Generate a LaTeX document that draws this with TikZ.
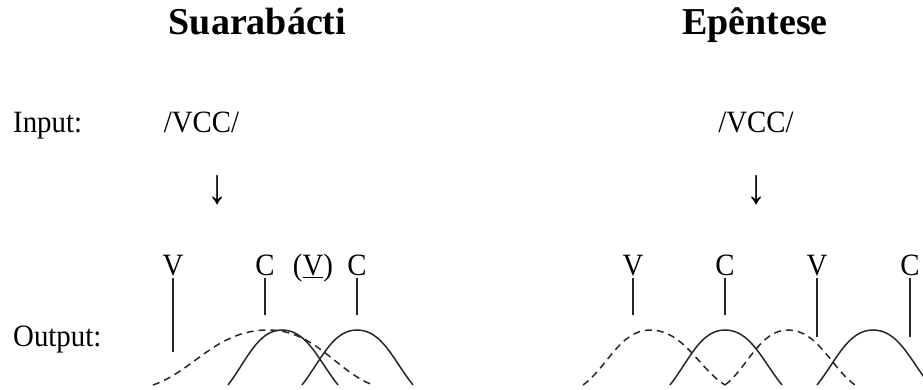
\documentclass[tikz,border=0pt]{standalone}
\usepackage{fontspec}
\setmainfont{Liberation Serif}
\newcommand\mybump[5]{%
  \draw[#5] (#1,385) .. controls +({0.35*(#2-#1)},{-#4*55}) and +({-0.45*(#2-#1)},0) .. (#2,330)
    .. controls +({0.45*(#3-#2)},0) and +({-0.35*(#3-#2)},{-#4*55}) .. (#3,385);}
\newcommand\cond[1]{\scalebox{0.93}[1]{#1}}
\begin{document}
\begin{tikzpicture}[x=1pt,y=-1pt,
  txt/.style={inner sep=0pt, anchor=base, font=\fontsize{31}{36}\selectfont},
  ttl/.style={inner sep=0pt, anchor=base, font=\fontsize{38}{44}\selectfont\bfseries},
  seg/.style={line width=1.4pt, black!85, shorten <=2pt},
  arcsolid/.style={line width=1.5pt, black!85},
  arcdash/.style={line width=1.5pt, black!85, dash pattern=on 7pt off 5pt}]
\useasboundingbox (0,0) rectangle (923,390);
\clip (0,0) rectangle (923,390);

% titles
\node[ttl] (t1) at (257.5,35) {Suarabácti};
\node[ttl] (t2) at (755,35) {Epêntese};

% input row
\node[txt, anchor=base west] (inp) at (13,133) {\cond{Input:}};
\node[txt] (in1) at (201.5,133) {\cond{/VCC/}};
\node[txt] (in2) at (756,133) {\cond{/VCC/}};

% arrows
\node[txt, anchor=center] (ar1) at (218,190) {\scalebox{1.3}[1.6]{↓}};
\node[txt, anchor=center] (ar2) at (757,190) {\scalebox{1.3}[1.6]{↓}};

% output label
\node[txt, anchor=base west] (outp) at (13,346) {\cond{Output:}};

% left output segments
\node[txt] (lV) at (173,275) {\cond{V}};
\node[txt] (lC1) at (265,275) {\cond{C}};
\node[txt] (lVp) at (313,275) {\cond{(\underline{V})}};
\node[txt] (lC2) at (357,275) {\cond{C}};
\coordinate (lVe) at (173,352);
\coordinate (lC1e) at (265,315);
\coordinate (lC2e) at (357,315);
\draw[seg] (lV.south) -- (lVe);
\draw[seg] (lC1.south) -- (lC1e);
\draw[seg] (lC2.south) -- (lC2e);

% right output segments
\node[txt] (rV1) at (633,275) {\cond{V}};
\node[txt] (rC1) at (725,275) {\cond{C}};
\node[txt] (rV2) at (817,275) {\cond{V}};
\node[txt] (rC2) at (910,275) {\cond{C}};
\coordinate (rV1e) at (633,315);
\coordinate (rC1e) at (725,315);
\coordinate (rV2e) at (817,337);
\coordinate (rC2e) at (910,337);
\draw[seg] (rV1.south) -- (rV1e);
\draw[seg] (rC1.south) -- (rC1e);
\draw[seg] (rV2.south) -- (rV2e);
\draw[seg] (rC2.south) -- (rC2e);

% left gestures
\mybump{153}{268}{373}{0.25}{arcdash}
\mybump{228}{282}{338}{0.45}{arcsolid}
\mybump{302}{357}{413}{0.45}{arcsolid}

% right gestures
\mybump{583}{650}{725}{0.3}{arcdash}
\mybump{725}{788}{855}{0.3}{arcdash}
\mybump{670}{725}{782}{0.45}{arcsolid}
\mybump{817}{873}{930}{0.45}{arcsolid}
\end{tikzpicture}
\end{document}
